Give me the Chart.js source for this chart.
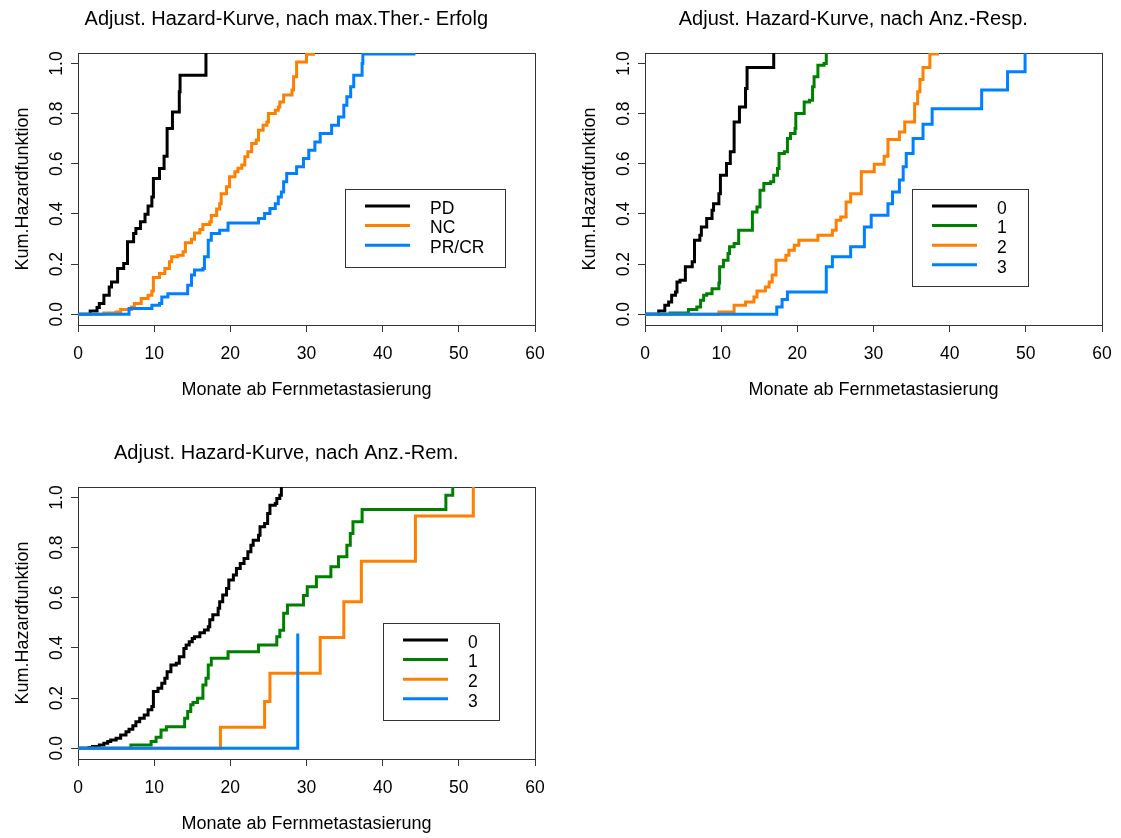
<!DOCTYPE html>
<html>
<head>
<meta charset="utf-8">
<script src="https://cdn.jsdelivr.net/npm/chart.js@4/dist/chart.umd.min.js"></script>
<style>
html, body { margin: 0; padding: 0; background: #fff; overflow: hidden; width: 1121px; height: 838px; }
.panel { position: absolute; width: 560px; height: 419px; }
canvas { display: block; }
</style>
</head>
<body>
<div class="panel" style="left:0px;top:0px"><canvas id="c1" width="560" height="419"></canvas></div>
<div class="panel" style="left:567px;top:0px"><canvas id="c2" width="560" height="419"></canvas></div>
<div class="panel" style="left:0px;top:434px"><canvas id="c3" width="560" height="419"></canvas></div>
<script>
// ---------- axis ticks / labels ----------
const xTicks = [0, 10, 20, 30, 40, 50, 60];
const yTicks = [0, 0.2, 0.4, 0.6, 0.8, 1.0];
const yTickLabels = ['0.0', '0.2', '0.4', '0.6', '0.8', '1.0'];
const xAxisTitle = 'Monate ab Fernmetastasierung';
const yAxisTitle = 'Kum.Hazardfunktion';

// ---------- panel 1: nach max. Therapie-Erfolg ----------
const title1 = 'Adjust. Hazard-Kurve, nach max.Ther.- Erfolg';
const labels1 = ['PD', 'NC', 'PR/CR'];
const colors1 = ['#000000', '#ff7f00', '#0080ff'];
const pdTimes = [0, 1.6, 2.5, 2.8, 3.4, 4.1, 4.4, 5.2, 6.0, 6.5, 7.3, 7.6, 8.2, 8.8, 9.2, 9.7, 9.9, 10.7, 11.3, 11.7, 12.4, 13.3, 13.4, 16.8];
const pdHaz   = [0, 0.013, 0.027, 0.043, 0.076, 0.109, 0.129, 0.182, 0.202, 0.289, 0.322, 0.342, 0.369, 0.399, 0.432, 0.468, 0.541, 0.581, 0.630, 0.741, 0.807, 0.887, 0.953, 1.1];
const ncTimes = [0, 3.4, 5.0, 5.6, 7.0, 7.4, 8.3, 9.2, 9.7, 9.9, 10.7, 11.4, 12.0, 12.3, 13.1, 13.8, 14.1, 14.9, 15.3, 16.0, 16.4, 17.3, 17.5, 18.2, 18.6, 18.8, 19.5, 19.9, 20.6, 21.0, 21.5, 21.9, 22.3, 22.8, 23.4, 23.7, 24.3, 24.8, 25.0, 25.9, 26.3, 26.5, 27.0, 28.1, 28.3, 28.7, 30.0, 31.1];
const ncHaz   = [0, 0.005, 0.009, 0.019, 0.029, 0.043, 0.063, 0.076, 0.093, 0.146, 0.162, 0.182, 0.209, 0.229, 0.235, 0.249, 0.285, 0.299, 0.324, 0.338, 0.358, 0.368, 0.394, 0.420, 0.441, 0.481, 0.508, 0.548, 0.568, 0.582, 0.595, 0.628, 0.648, 0.681, 0.695, 0.734, 0.754, 0.767, 0.801, 0.814, 0.827, 0.847, 0.874, 0.894, 0.947, 1.006, 1.037, 1.037];
const prcrTimes = [0, 6.7, 9.7, 10.7, 11.0, 11.8, 14.4, 14.9, 15.3, 16.4, 16.6, 17.1, 17.5, 18.6, 19.7, 23.7, 24.5, 25.2, 25.9, 26.3, 26.7, 27.0, 27.4, 28.7, 29.6, 30.3, 31.1, 31.8, 33.3, 34.2, 34.9, 35.3, 35.8, 36.2, 37.3, 37.4, 44.3];
const prcrHaz   = [0, 0.023, 0.036, 0.043, 0.069, 0.082, 0.116, 0.156, 0.176, 0.182, 0.229, 0.295, 0.322, 0.335, 0.364, 0.382, 0.402, 0.422, 0.441, 0.468, 0.488, 0.528, 0.561, 0.588, 0.621, 0.654, 0.687, 0.721, 0.754, 0.787, 0.834, 0.867, 0.907, 0.953, 1.0, 1.038, 1.038];

// ---------- panel 2: nach Anzahl Responses ----------
const title2 = 'Adjust. Hazard-Kurve, nach Anz.-Resp.';
const labels2 = ['0', '1', '2', '3'];
const colors2 = ['#000000', '#008000', '#ff7f00', '#0080ff'];
const resp0Times = [0, 1.8, 2.6, 3.1, 3.5, 4.0, 4.2, 4.6, 5.3, 6.2, 6.5, 7.2, 7.4, 8.1, 8.8, 9.0, 9.7, 9.9, 10.7, 11.2, 11.7, 12.4, 13.2, 13.4, 16.9];
const resp0Haz   = [0, 0.013, 0.036, 0.049, 0.076, 0.089, 0.129, 0.136, 0.189, 0.209, 0.295, 0.315, 0.348, 0.382, 0.415, 0.441, 0.481, 0.554, 0.601, 0.648, 0.767, 0.827, 0.9, 0.984, 1.1];
const resp1Times = [0, 3.3, 5.7, 6.8, 7.3, 7.7, 8.1, 8.8, 9.7, 9.8, 10.3, 10.9, 11.1, 11.7, 12.3, 14.1, 14.7, 15.1, 15.6, 16.5, 16.9, 17.4, 17.6, 18.3, 18.7, 19.1, 19.7, 19.8, 20.9, 21.6, 22.0, 22.2, 22.7, 23.5, 23.8];
const resp1Haz   = [0, 0.005, 0.019, 0.029, 0.056, 0.076, 0.082, 0.102, 0.125, 0.189, 0.215, 0.242, 0.269, 0.282, 0.335, 0.408, 0.428, 0.495, 0.521, 0.528, 0.554, 0.581, 0.641, 0.648, 0.701, 0.721, 0.741, 0.801, 0.847, 0.854, 0.907, 0.947, 0.993, 1.0, 1.1];
const resp2Times = [0, 9.7, 11.7, 13.2, 14.3, 14.7, 15.8, 16.3, 16.7, 17.2, 18.5, 18.9, 19.6, 20.2, 22.7, 24.6, 25.1, 25.7, 26.4, 27.0, 28.4, 30.1, 31.4, 31.9, 33.4, 34.1, 35.4, 35.8, 36.1, 36.5, 37.4, 38.6];
const resp2Haz   = [0, 0.009, 0.036, 0.049, 0.069, 0.093, 0.109, 0.129, 0.156, 0.215, 0.235, 0.255, 0.275, 0.295, 0.315, 0.335, 0.375, 0.388, 0.448, 0.481, 0.568, 0.598, 0.630, 0.697, 0.727, 0.767, 0.840, 0.887, 0.936, 0.984, 1.038, 1.038];
const resp3Times = [0, 17.3, 18.0, 18.7, 23.8, 24.6, 27.0, 28.8, 29.7, 31.9, 32.5, 33.4, 33.9, 34.3, 35.2, 36.5, 37.7, 44.2, 47.6, 49.9];
const resp3Haz   = [0, 0.029, 0.059, 0.089, 0.189, 0.229, 0.269, 0.348, 0.395, 0.441, 0.488, 0.535, 0.588, 0.641, 0.701, 0.758, 0.82, 0.894, 0.967, 1.1];

// ---------- panel 3: nach Anzahl Remissionen ----------
const title3 = 'Adjust. Hazard-Kurve, nach Anz.-Rem.';
const labels3 = ['0', '1', '2', '3'];
const colors3 = ['#000000', '#008000', '#ff7f00', '#0080ff'];
const rem0Times = [0, 1.45, 1.9, 2.8, 3.4, 3.9, 4.3, 5.0, 5.6, 6.3, 6.7, 7.2, 7.6, 8.1, 8.7, 9.2, 9.7, 9.9, 10.5, 11.0, 11.4, 11.7, 12.2, 12.9, 13.3, 13.9, 14.2, 14.6, 15.0, 15.3, 16.0, 16.6, 17.1, 17.3, 17.7, 18.4, 18.6, 19.0, 19.5, 19.8, 20.4, 20.8, 21.3, 21.8, 22.3, 22.7, 23.0, 23.7, 23.9, 24.5, 24.9, 25.2, 25.9, 26.1, 26.5, 26.7];
const rem0Haz   = [0, 0.003, 0.007, 0.013, 0.02, 0.027, 0.033, 0.04, 0.053, 0.066, 0.076, 0.09, 0.106, 0.12, 0.133, 0.153, 0.166, 0.226, 0.239, 0.259, 0.279, 0.305, 0.332, 0.339, 0.365, 0.398, 0.412, 0.425, 0.438, 0.445, 0.461, 0.472, 0.485, 0.512, 0.532, 0.558, 0.584, 0.611, 0.637, 0.671, 0.691, 0.717, 0.737, 0.757, 0.784, 0.81, 0.83, 0.85, 0.883, 0.896, 0.936, 0.969, 0.976, 0.996, 1.009, 1.1];
const rem1Times = [0, 6.95, 9.6, 10.25, 10.9, 11.6, 14.0, 14.4, 14.8, 15.1, 15.7, 16.4, 16.8, 17.1, 17.5, 19.7, 23.7, 26.1, 26.5, 27.0, 27.5, 29.6, 30.1, 31.3, 33.2, 34.2, 35.3, 35.75, 36.1, 37.3, 48.3, 49.2];
const rem1Haz   = [0, 0.013, 0.027, 0.044, 0.073, 0.086, 0.12, 0.146, 0.173, 0.182, 0.199, 0.252, 0.279, 0.332, 0.359, 0.385, 0.412, 0.445, 0.471, 0.538, 0.571, 0.609, 0.644, 0.684, 0.724, 0.764, 0.81, 0.857, 0.903, 0.952, 1.009, 1.1];
const rem2Times = [0, 18.7, 24.5, 25.2, 31.8, 34.9, 37.2, 44.3, 51.9];
const rem2Haz   = [0, 0.084, 0.186, 0.299, 0.442, 0.584, 0.746, 0.926, 1.1];
const rem3Times = [0, 28.85];
const rem3Haz   = [0, 0.458];

// ---------- drawing ----------
const FONT = '"Liberation Sans", Arial, Helvetica, sans-serif';
Chart.defaults.font.family = FONT;
Chart.defaults.color = '#000';

function makePanel(canvasId, title, labels, colors, times, values, legendAt) {
  const n = labels.length;
  const datasets = labels.map((lab, i) => ({
    label: lab,
    data: times[i].map((t, j) => ({ x: t, y: values[i][j] })),
    borderColor: colors[i],
    backgroundColor: colors[i],
    borderWidth: 3,
    pointRadius: 0,
    pointHoverRadius: 0,
    stepped: 'before',
    fill: false,
    order: n - i
  }));

  const decor = {
    id: 'rdecor',
    beforeDatasetsDraw(chart) {
      const ctx = chart.ctx;
      const a = chart.chartArea;
      ctx.save();
      // plot box
      ctx.strokeStyle = '#333';
      ctx.lineWidth = 1;
      ctx.strokeRect(Math.round(a.left) + 0.5, Math.round(a.top) + 0.5,
                     Math.round(a.right - a.left), Math.round(a.bottom - a.top));
      // main title
      ctx.fillStyle = '#000';
      ctx.font = '20px ' + FONT;
      ctx.textAlign = 'center';
      ctx.textBaseline = 'alphabetic';
      ctx.fillText(title, 286.3, 24.5);
      // rotated y tick labels (R style, las = 0)
      const ys = chart.scales.y;
      ctx.font = '17.5px ' + FONT;
      yTicks.forEach((v, k) => {
        const py = ys.getPixelForValue(v);
        ctx.save();
        ctx.translate(61.5, py);
        ctx.rotate(-Math.PI / 2);
        ctx.textAlign = 'center';
        ctx.textBaseline = 'alphabetic';
        ctx.fillText(yTickLabels[k], 0, 0);
        ctx.restore();
      });
      ctx.restore();
    },
    afterDatasetsDraw(chart) {
      const ctx = chart.ctx;
      const xs = chart.scales.x, ys = chart.scales.y;
      const left = Math.round(xs.getPixelForValue(legendAt[0]));
      const top = Math.round(ys.getPixelForValue(legendAt[1]));
      ctx.save();
      ctx.font = '17.5px ' + FONT;
      let maxW = 0;
      chart.data.datasets.forEach(d => { maxW = Math.max(maxW, ctx.measureText(d.label).width); });
      const rowGap = 19.6;
      const w = Math.round(85 + maxW + 21);
      const h = Math.round(17 + (n - 1) * rowGap + 21.6);
      ctx.fillStyle = '#fff';
      ctx.fillRect(left, top, w, h);
      ctx.strokeStyle = '#333';
      ctx.lineWidth = 1;
      ctx.strokeRect(left + 0.5, top + 0.5, w, h);
      chart.data.datasets.forEach((d, i) => {
        const ry = top + 17 + i * rowGap;
        ctx.strokeStyle = d.borderColor;
        ctx.lineWidth = 3;
        ctx.beginPath();
        ctx.moveTo(left + 20, ry);
        ctx.lineTo(left + 65, ry);
        ctx.stroke();
        ctx.fillStyle = '#000';
        ctx.textAlign = 'left';
        ctx.textBaseline = 'middle';
        ctx.fillText(d.label, left + 85, ry + 3);
      });
      ctx.restore();
    }
  };

  return new Chart(document.getElementById(canvasId), {
    type: 'line',
    data: { datasets },
    options: {
      responsive: false,
      animation: false,
      events: [],
      layout: { padding: { top: 53, right: 25, bottom: 0, left: 0 } },
      plugins: {
        legend: { display: false },
        title: { display: false },
        tooltip: { enabled: false }
      },
      scales: {
        x: {
          type: 'linear',
          min: 0,
          max: 60,
          afterBuildTicks: s => { s.ticks = xTicks.map(v => ({ value: v })); },
          afterFit: s => { s.height = 94; },
          ticks: { font: { size: 17.5 }, color: '#000', padding: 12, maxRotation: 0, autoSkip: false,
                   callback: v => String(v) },
          grid: { display: true, drawOnChartArea: false, drawTicks: true, tickLength: 7, color: '#333', lineWidth: 1 },
          border: { display: false },
          title: { display: true, text: xAxisTitle, font: { size: 18 }, color: '#000', padding: { top: 0, bottom: 18 } }
        },
        y: {
          type: 'linear',
          min: -0.043,
          max: 1.042,
          afterBuildTicks: s => { s.ticks = yTicks.map(v => ({ value: v })); },
          afterFit: s => { s.width = 78; },
          ticks: { display: false },
          grid: { display: true, drawOnChartArea: false, drawTicks: true, tickLength: 7, color: '#333', lineWidth: 1 },
          border: { display: false },
          title: { display: true, text: yAxisTitle, font: { size: 18 }, color: '#000', padding: { top: 12, bottom: 0 } }
        }
      }
    },
    plugins: [decor]
  });
}

makePanel('c1', title1, labels1, colors1,
  [pdTimes, ncTimes, prcrTimes], [pdHaz, ncHaz, prcrHaz], [35, 0.5]);
makePanel('c2', title2, labels2, colors2,
  [resp0Times, resp1Times, resp2Times, resp3Times], [resp0Haz, resp1Haz, resp2Haz, resp3Haz], [35, 0.5]);
makePanel('c3', title3, labels3, colors3,
  [rem0Times, rem1Times, rem2Times, rem3Times], [rem0Haz, rem1Haz, rem2Haz, rem3Haz], [40, 0.5]);
</script>
</body>
</html>
